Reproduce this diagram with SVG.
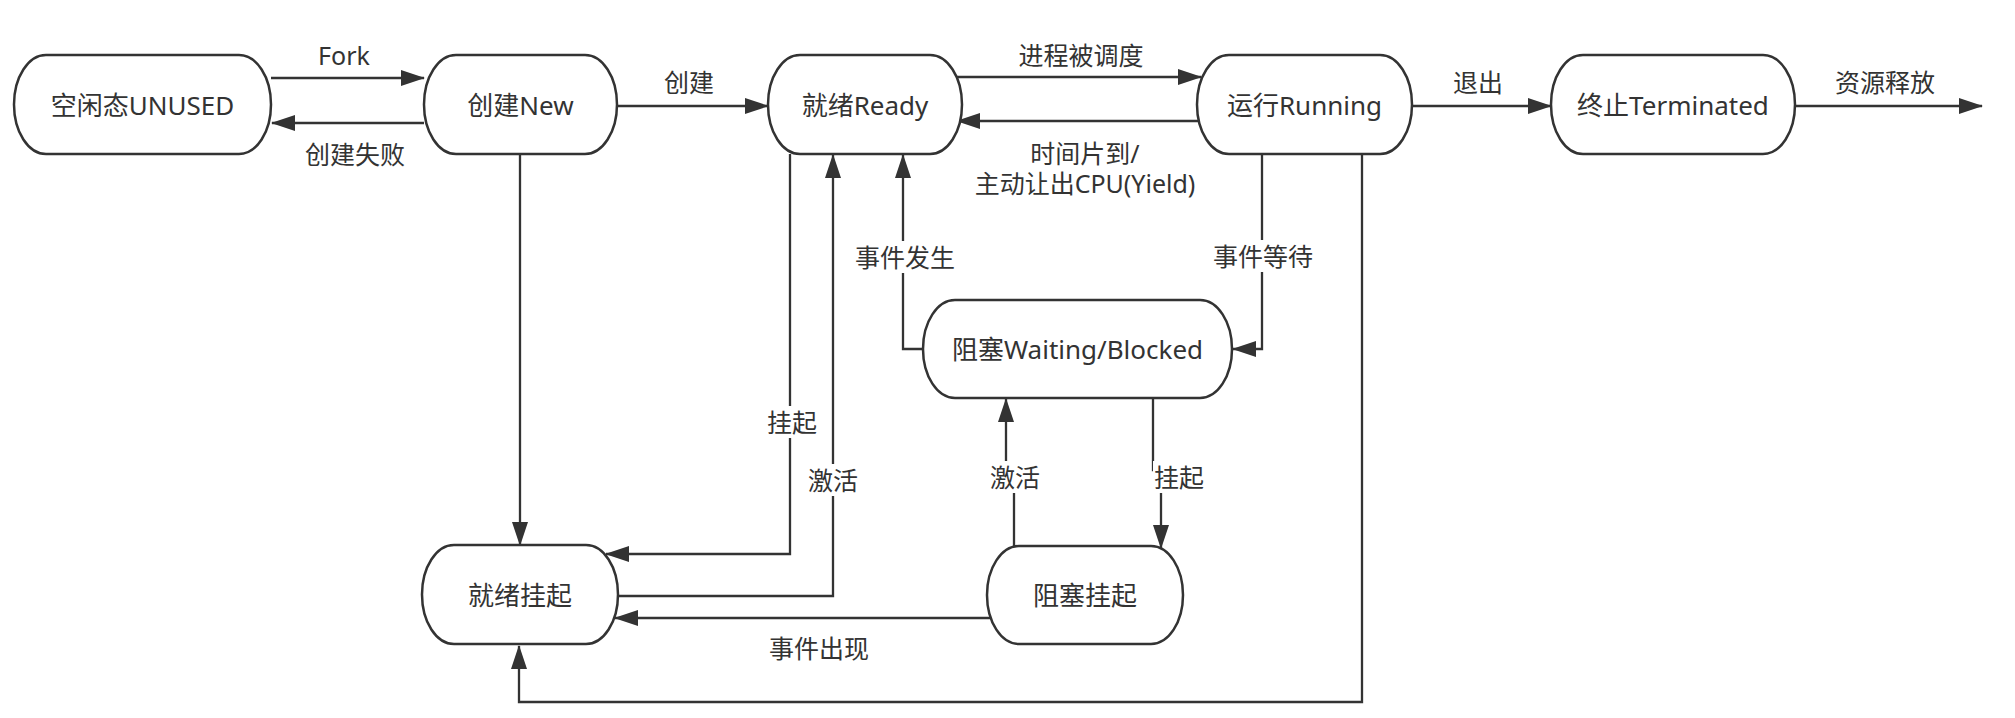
<svg xmlns="http://www.w3.org/2000/svg" width="2015" height="718" viewBox="0 0 2015 718">
<style>
  .node rect { fill: #ffffff; stroke: #333333; stroke-width: 2.5; }
  .node text, .lbl { font-family: "Noto Sans", "Noto Sans CJK SC", sans-serif; font-size: 25px; fill: #333333; text-anchor: middle; dominant-baseline: central; }
  .node text { font-size: 26px; }
  .edge { fill: none; stroke: #333333; stroke-width: 2.3; marker-end: url(#arrow); }
  .bg { fill: #ffffff; }
</style>
<defs>
  <marker id="arrow" viewBox="0 0 24 16" refX="23" refY="8" markerWidth="24" markerHeight="16" markerUnits="userSpaceOnUse" orient="auto">
    <path d="M0,0 L24,8 L0,16 Z" fill="#333333"/>
  </marker>
</defs>
<rect x="0" y="0" width="2015" height="718" fill="#ffffff"/>

<g id="connectors">
  <path class="edge" d="M271,78 L424,78"/>
  <path class="edge" d="M424,123 L272,123"/>
  <path class="edge" d="M617,106 L768,106"/>
  <path class="edge" d="M957,77 L1201,77"/>
  <path class="edge" d="M1202,121 L957,121"/>
  <path class="edge" d="M1412,106 L1551,106"/>
  <path class="edge" d="M1795,106 L1982,106"/>
  <path class="edge" d="M520,154 L520,545"/>
  <path class="edge" d="M790,154 L790,554 L606,554"/>
  <path class="edge" d="M618,596 L833,596 L833,155"/>
  <path class="edge" d="M923,349 L903,349 L903,155"/>
  <path class="edge" d="M1262,154 L1262,349 L1233,349"/>
  <path class="edge" d="M1014,546 L1014,480 L1006,480 L1006,399"/>
  <path class="edge" d="M1153,398 L1153,470 L1161,470 L1161,548"/>
  <path class="edge" d="M990,618 L615,618"/>
  <path class="edge" d="M1362,154 L1362,702 L519,702 L519,646"/>

  <text class="lbl" x="344" y="55">Fork</text>
  <text class="lbl" x="355" y="154">创建失败</text>
  <text class="lbl" x="689" y="82">创建</text>
  <text class="lbl" x="1081" y="55">进程被调度</text>
  <text class="lbl" x="1085" y="153">时间片到/</text>
  <text class="lbl" x="1085" y="183">主动让出CPU(Yield)</text>
  <text class="lbl" x="1478" y="82">退出</text>
  <text class="lbl" x="1885" y="82">资源释放</text>

  <rect class="bg" x="766" y="406" width="52" height="32"/>
  <text class="lbl" x="792" y="422">挂起</text>
  <rect class="bg" x="807" y="464" width="52" height="32"/>
  <text class="lbl" x="833" y="480">激活</text>
  <rect class="bg" x="854" y="241" width="102" height="32"/>
  <text class="lbl" x="905" y="257">事件发生</text>
  <rect class="bg" x="1212" y="240" width="102" height="32"/>
  <text class="lbl" x="1263" y="256">事件等待</text>
  <rect class="bg" x="989" y="461" width="52" height="32"/>
  <text class="lbl" x="1015" y="477">激活</text>
  <rect class="bg" x="1153" y="461" width="52" height="32"/>
  <text class="lbl" x="1179" y="477">挂起</text>
  <text class="lbl" x="819" y="648">事件出现</text>
</g>

<g id="node-unused" class="node">
  <rect x="14" y="55" width="257" height="99" rx="32" ry="49.5"/>
  <text x="142.5" y="104.5">空闲态UNUSED</text>
</g>
<g id="node-new" class="node">
  <rect x="424" y="55" width="193" height="99" rx="32" ry="49.5"/>
  <text x="520.5" y="104.5">创建New</text>
</g>
<g id="node-ready" class="node">
  <rect x="768" y="55" width="194" height="99" rx="32" ry="49.5"/>
  <text x="865" y="104.5">就绪Ready</text>
</g>
<g id="node-running" class="node">
  <rect x="1197" y="55" width="215" height="99" rx="32" ry="49.5"/>
  <text x="1304.5" y="104.5">运行Running</text>
</g>
<g id="node-terminated" class="node">
  <rect x="1551" y="55" width="244" height="99" rx="32" ry="49.5"/>
  <text x="1673" y="104.5">终止Terminated</text>
</g>
<g id="node-blocked" class="node">
  <rect x="923" y="300" width="309" height="98" rx="32" ry="49"/>
  <text x="1077.5" y="349">阻塞Waiting/Blocked</text>
</g>
<g id="node-ready-suspended" class="node">
  <rect x="422" y="545" width="196" height="99" rx="32" ry="49.5"/>
  <text x="520" y="594.5">就绪挂起</text>
</g>
<g id="node-blocked-suspended" class="node">
  <rect x="987" y="546" width="196" height="98" rx="32" ry="49"/>
  <text x="1085" y="595">阻塞挂起</text>
</g>
</svg>
